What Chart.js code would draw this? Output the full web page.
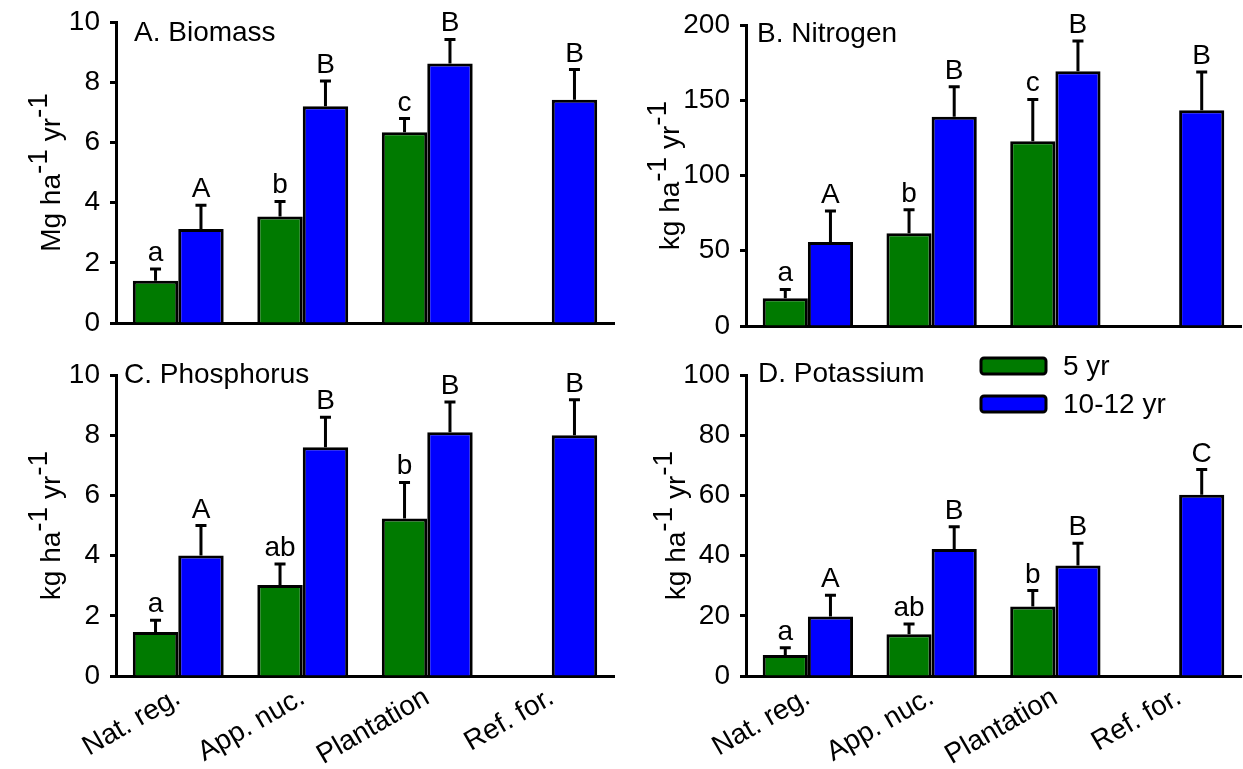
<!DOCTYPE html>
<html>
<head>
<meta charset="utf-8">
<script src="https://cdn.jsdelivr.net/npm/chart.js@4.4.0/dist/chart.umd.min.js"></script>
<style>
  body { margin: 0; background: #fff; width: 1243px; height: 769px; position: relative; overflow: hidden; }
  canvas { position: absolute; }
</style>
</head>
<body>
<canvas id="panelA" width="625" height="363" style="left:0px;top:-10px"></canvas>
<canvas id="panelB" width="618" height="366" style="left:625px;top:-10px"></canvas>
<canvas id="panelC" width="625" height="424" style="left:0px;top:345px"></canvas>
<canvas id="panelD" width="618" height="424" style="left:625px;top:345px"></canvas>
<script>
// categories and series
const categories = ["Nat. reg.", "App. nuc.", "Plantation", "Ref. for."];
const seriesNames = ["5 yr", "10-12 yr"];

// A. Biomass (Mg ha-1 yr-1)
const biomass5 = [1.4, 3.54, 6.34, null];
const biomass5Err = [0.39, 0.5, 0.45, null];
const biomass5Letters = ["a", "b", "c", ""];
const biomass10 = [3.12, 7.2, 8.62, 7.42];
const biomass10Err = [0.79, 0.84, 0.8, 1.0];
const biomass10Letters = ["A", "B", "B", "B"];

// B. Nitrogen (kg ha-1 yr-1)
const nitrogen5 = [18.5, 61.6, 122.7, null];
const nitrogen5Err = [5.8, 15.7, 27.8, null];
const nitrogen5Letters = ["a", "b", "c", ""];
const nitrogen10 = [55.8, 139, 169.3, 143.3];
const nitrogen10Err = [20.6, 20, 20.1, 25.4];
const nitrogen10Letters = ["A", "B", "B", "B"];

// C. Phosphorus (kg ha-1 yr-1)
const phosphorus5 = [1.46, 3.02, 5.23, null];
const phosphorus5Err = [0.39, 0.7, 1.2, null];
const phosphorus5Letters = ["a", "ab", "b", ""];
const phosphorus10 = [4.0, 7.6, 8.1, 8.0];
const phosphorus10Err = [1.0, 1.0, 1.0, 1.18];
const phosphorus10Letters = ["A", "B", "B", "B"];

// D. Potassium (kg ha-1 yr-1)
const potassium5 = [7.0, 13.9, 23.1, null];
const potassium5Err = [2.4, 3.4, 5.3, null];
const potassium5Letters = ["a", "ab", "b", ""];
const potassium10 = [19.8, 42.2, 36.7, 60.2];
const potassium10Err = [7.0, 7.4, 7.4, 8.4];
const potassium10Letters = ["A", "B", "B", "C"];

// y axis ticks
const ticksA = { max: 10, step: 2 };
const ticksB = { max: 200, step: 50 };
const ticksC = { max: 10, step: 2 };
const ticksD = { max: 100, step: 20 };

const FONT = "'Liberation Sans', Arial, sans-serif";
const FS = 28;
const GREEN = "#007a00";
const BLUE = "#0000ff";

// error bars + letters above them
const errorBars = {
  id: "errorBars",
  afterDatasetsDraw(chart) {
    const ctx = chart.ctx;
    const yScale = chart.scales.y;
    ctx.save();
    chart.data.datasets.forEach((ds, di) => {
      const meta = chart.getDatasetMeta(di);
      meta.data.forEach((bar, i) => {
        const v = ds.data[i];
        if (v === null) return;
        const top = yScale.getPixelForValue(v + ds.errors[i]);
        ctx.strokeStyle = "#000";
        ctx.lineWidth = 3;
        ctx.beginPath();
        ctx.moveTo(bar.x, bar.y);
        ctx.lineTo(bar.x, top);
        ctx.moveTo(bar.x - 5.5, top);
        ctx.lineTo(bar.x + 5.5, top);
        ctx.stroke();
        if (ds.letters[i]) {
          ctx.fillStyle = "#000";
          ctx.font = FS + "px " + FONT;
          ctx.textAlign = "center";
          ctx.textBaseline = "alphabetic";
          ctx.fillText(ds.letters[i], bar.x, top - 8);
        }
      });
    });
    ctx.restore();
  }
};

// panel title, y title with superscripts, legend
const decorations = {
  id: "decorations",
  afterDraw(chart, args, opts) {
    const ctx = chart.ctx;
    const area = chart.chartArea;
    ctx.save();
    ctx.fillStyle = "#000";
    ctx.font = FS + "px " + FONT;
    ctx.textAlign = "left";
    ctx.textBaseline = "alphabetic";
    ctx.fillText(opts.title, opts.titleX, area.top + opts.titleDy);

    // rotated y title
    const cy = (area.top + area.bottom) / 2;
    ctx.translate(opts.yTitleX, cy);
    ctx.rotate(-Math.PI / 2);
    let total = 0;
    opts.yTitle.forEach(p => { total += ctx.measureText(p[0]).width; });
    let x = -total / 2;
    opts.yTitle.forEach(p => {
      ctx.fillText(p[0], x, p[1] ? -3 : 10);
      x += ctx.measureText(p[0]).width;
    });
    ctx.setTransform(1, 0, 0, 1, 0, 0);

    if (opts.legend) {
      const lg = opts.legend;
      chart.data.datasets.forEach((ds, i) => {
        const y = lg.y + i * lg.gap;
        ctx.fillStyle = ds.backgroundColor;
        ctx.strokeStyle = "#000";
        ctx.lineWidth = 3;
        ctx.beginPath();
        ctx.roundRect(lg.x, y, lg.w, lg.h, 3);
        ctx.fill();
        ctx.stroke();
        ctx.fillStyle = "#000";
        ctx.textBaseline = "middle";
        ctx.fillText(ds.label, lg.x + lg.w + 17, y + lg.h / 2 + 1);
      });
    }
    ctx.restore();
  }
};

function makePanel(id, d5, e5, l5, d10, e10, l10, ticks, showX, yWidth, xHeight, pad, deco) {
  return new Chart(document.getElementById(id), {
    type: "bar",
    data: {
      labels: categories,
      datasets: [
        { label: seriesNames[0], data: d5, errors: e5, letters: l5, backgroundColor: GREEN },
        { label: seriesNames[1], data: d10, errors: e10, letters: l10, backgroundColor: BLUE }
      ]
    },
    options: {
      responsive: false,
      animation: false,
      devicePixelRatio: 1,
      layout: { padding: pad },
      datasets: {
        bar: {
          borderColor: "#000",
          borderWidth: 3,
          categoryPercentage: 0.73,
          barPercentage: 1.0
        }
      },
      plugins: {
        legend: { display: false },
        tooltip: { enabled: false },
        decorations: deco
      },
      scales: {
        x: {
          offset: true,
          grid: { display: false },
          border: { color: "#000", width: 3 },
          ticks: {
            display: showX,
            color: "#000",
            font: { size: FS, family: FONT },
            minRotation: 30,
            maxRotation: 30,
            padding: -3
          },
          afterFit: s => { s.height = xHeight; }
        },
        y: {
          min: 0,
          max: ticks.max,
          grid: { drawOnChartArea: false, tickLength: 6, tickColor: "#000", tickWidth: 3 },
          border: { color: "#000", width: 3 },
          ticks: {
            stepSize: ticks.step,
            color: "#000",
            font: { size: FS, family: FONT },
            padding: 10
          },
          afterFit: s => { s.width = yWidth; }
        }
      }
    },
    plugins: [errorBars, decorations]
  });
}

const massUnit = [["Mg ha", 0], ["-1", 1], [" yr", 0], ["-1", 1]];
const kgUnit = [["kg ha", 0], ["-1", 1], [" yr", 0], ["-1", 1]];

makePanel("panelA", biomass5, biomass5Err, biomass5Letters, biomass10, biomass10Err, biomass10Letters,
  ticksA, false, 116, 30, { top: 32, right: 11, bottom: 0, left: 0 },
  { title: "A. Biomass", titleX: 134, titleDy: 19, yTitle: massUnit, yTitleX: 50 });

makePanel("panelB", nitrogen5, nitrogen5Err, nitrogen5Letters, nitrogen10, nitrogen10Err, nitrogen10Letters,
  ticksB, false, 121, 30, { top: 35, right: 2, bottom: 0, left: 0 },
  { title: "B. Nitrogen", titleX: 132, titleDy: 17, yTitle: kgUnit, yTitleX: 44 });

makePanel("panelC", phosphorus5, phosphorus5Err, phosphorus5Letters, phosphorus10, phosphorus10Err, phosphorus10Letters,
  ticksC, true, 116, 93, { top: 30, right: 11, bottom: 0, left: 0 },
  { title: "C. Phosphorus", titleX: 124, titleDy: 8, yTitle: kgUnit, yTitleX: 50 });

makePanel("panelD", potassium5, potassium5Err, potassium5Letters, potassium10, potassium10Err, potassium10Letters,
  ticksD, true, 121, 93, { top: 30, right: 2, bottom: 0, left: 0 },
  { title: "D. Potassium", titleX: 133, titleDy: 7, yTitle: kgUnit, yTitleX: 50,
    legend: { x: 356, y: 13, w: 65, h: 16, gap: 38 } });
</script>
</body>
</html>
